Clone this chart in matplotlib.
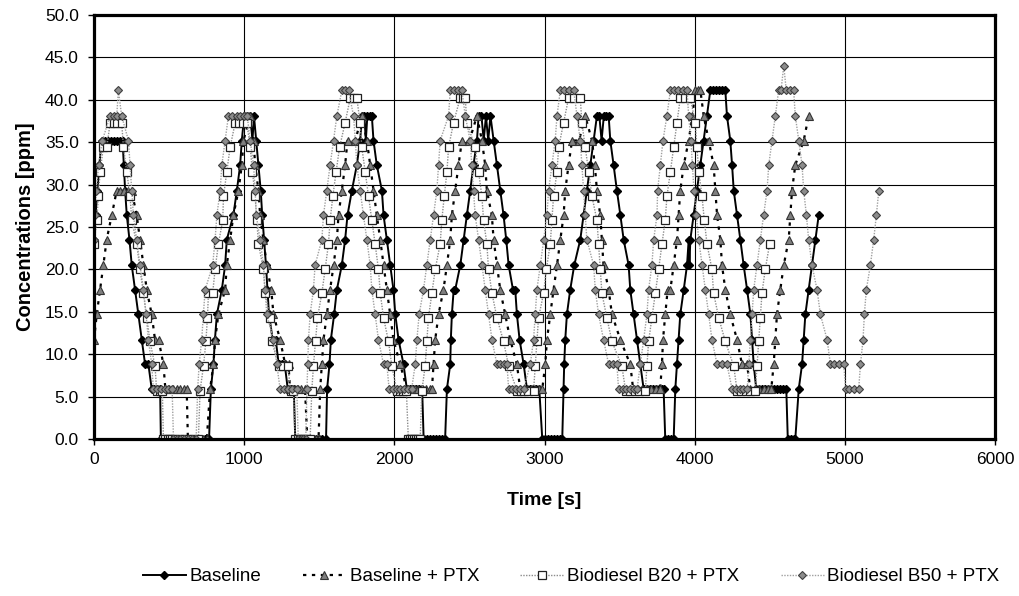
import numpy as np
import matplotlib.pyplot as plt

plt.rcParams['font.family'] = ['Liberation Sans', 'DejaVu Sans']

# (time [s], concentration [ppm])
baseline = [
    (0, 23.5), (10, 26.4), (22, 29.3), (35, 32.3), (50, 35.2), (70, 35.2), (90, 35.2), (110, 35.2),
    (130, 35.2), (150, 35.2), (170, 35.2), (190, 35.2), (198, 32.3), (207, 29.3), (218, 26.4),
    (236, 23.5), (251, 20.5), (273, 17.6), (295, 14.7), (318, 11.7), (340, 8.8), (362, 8.8),
    (384, 5.9), (400, 5.9), (420, 5.9), (440, 5.9), (445, 0), (465, 0), (490, 0), (515, 0),
    (540, 0), (565, 0), (590, 0), (615, 0), (640, 0), (665, 0), (690, 0), (715, 0), (740, 0),
    (766, 0), (778, 5.9), (795, 8.8), (805, 11.7), (818, 14.7), (851, 17.6), (873, 20.5),
    (884, 23.5), (928, 26.4), (951, 29.3), (973, 32.3), (984, 35.2), (1000, 38.1), (1020, 38.1),
    (1040, 38.1), (1055, 35.2), (1065, 38.1), (1080, 35.2), (1095, 32.3), (1110, 29.3),
    (1120, 26.4), (1132, 23.5), (1145, 20.5), (1155, 17.6), (1165, 14.7), (1190, 11.7),
    (1210, 11.7), (1230, 8.8), (1250, 8.8), (1270, 8.8), (1290, 5.9), (1310, 5.9), (1330, 5.9),
    (1340, 0), (1360, 0), (1380, 0), (1400, 0), (1420, 0), (1440, 0), (1460, 0), (1480, 0),
    (1500, 0), (1520, 0), (1545, 0), (1552, 5.9), (1568, 8.8), (1577, 11.7), (1599, 14.7),
    (1617, 17.6), (1650, 20.5), (1672, 23.5), (1688, 26.4), (1717, 29.3), (1750, 32.3),
    (1772, 35.2), (1785, 38.1), (1800, 38.1), (1810, 35.2), (1820, 38.1), (1835, 38.1),
    (1850, 38.1), (1861, 35.2), (1883, 32.3), (1917, 29.3), (1928, 26.4), (1950, 23.5),
    (1972, 20.5), (1994, 17.6), (2006, 14.7), (2028, 11.7), (2061, 8.8), (2083, 5.9), (2105, 5.9),
    (2125, 5.9), (2145, 5.9), (2165, 5.9), (2185, 5.9), (2195, 0), (2215, 0), (2235, 0), (2255, 0),
    (2275, 0), (2295, 0), (2315, 0), (2338, 0), (2350, 5.9), (2372, 8.8), (2376, 11.7),
    (2383, 14.7), (2395, 17.6), (2405, 17.6), (2439, 20.5), (2461, 23.5), (2483, 26.4),
    (2505, 29.3), (2527, 32.3), (2550, 35.2), (2561, 38.1), (2580, 38.1), (2595, 35.2),
    (2610, 38.1), (2625, 35.2), (2640, 38.1), (2661, 35.2), (2683, 32.3), (2705, 29.3),
    (2727, 26.4), (2745, 23.5), (2761, 20.5), (2790, 17.6), (2805, 17.6), (2816, 14.7),
    (2834, 11.7), (2861, 8.8), (2883, 5.9), (2905, 5.9), (2925, 5.9), (2945, 5.9), (2965, 5.9),
    (2985, 0), (3005, 0), (3025, 0), (3045, 0), (3065, 0), (3085, 0), (3105, 0), (3118, 0),
    (3127, 5.9), (3131, 8.8), (3138, 11.7), (3149, 14.7), (3171, 17.6), (3198, 20.5),
    (3238, 23.5), (3260, 26.4), (3282, 29.3), (3305, 32.3), (3327, 35.2), (3349, 38.1),
    (3365, 38.1), (3380, 35.2), (3395, 38.1), (3410, 38.1), (3427, 38.1), (3438, 35.2),
    (3460, 32.3), (3482, 29.3), (3505, 26.4), (3527, 23.5), (3560, 20.5), (3571, 17.6),
    (3593, 14.7), (3616, 11.7), (3638, 8.8), (3660, 5.9), (3680, 5.9), (3700, 5.9), (3720, 5.9),
    (3740, 5.9), (3760, 5.9), (3780, 5.9), (3793, 5.9), (3804, 0), (3820, 0), (3840, 0), (3860, 0),
    (3871, 5.9), (3882, 8.8), (3893, 11.7), (3904, 14.7), (3927, 17.6), (3949, 20.5),
    (3960, 23.5), (3965, 20.5), (3971, 23.5), (3993, 26.4), (4015, 29.3), (4038, 32.3),
    (4060, 35.2), (4082, 38.1), (4104, 41.1), (4125, 41.1), (4145, 41.1), (4165, 41.1),
    (4185, 41.1), (4204, 41.1), (4215, 38.1), (4237, 35.2), (4249, 32.3), (4260, 29.3),
    (4282, 26.4), (4304, 23.5), (4326, 20.5), (4349, 17.6), (4371, 14.7), (4382, 11.7),
    (4393, 8.8), (4410, 5.9), (4430, 5.9), (4450, 5.9), (4470, 5.9), (4490, 5.9), (4510, 5.9),
    (4530, 5.9), (4550, 5.9), (4570, 5.9), (4590, 5.9), (4610, 5.9), (4620, 0), (4640, 0),
    (4660, 0), (4670, 0), (4693, 5.9), (4715, 8.8), (4726, 11.7), (4737, 14.7), (4759, 17.6),
    (4781, 20.5), (4804, 23.5), (4826, 26.4),
]

baseline_ptx = [
    (0, 11.7), (18, 14.7), (40, 17.6), (62, 20.5), (84, 23.5), (118, 26.4), (151, 29.3),
    (175, 29.3), (200, 29.3), (225, 29.3), (250, 29.3), (284, 26.4), (306, 23.5), (329, 20.5),
    (351, 17.6), (384, 14.7), (406, 11.7), (430, 11.7), (462, 8.8), (475, 5.9), (500, 5.9),
    (525, 5.9), (550, 5.9), (575, 5.9), (600, 5.9), (617, 5.9), (625, 0), (650, 0), (675, 0),
    (700, 0), (725, 0), (751, 0), (773, 5.9), (795, 8.8), (806, 11.7), (828, 14.7), (873, 17.6),
    (884, 20.5), (906, 23.5), (928, 26.4), (962, 29.3), (984, 32.3), (995, 35.2), (1040, 38.1),
    (1062, 35.2), (1073, 32.3), (1095, 29.3), (1106, 26.4), (1128, 23.5), (1150, 20.5),
    (1180, 17.6), (1195, 14.7), (1239, 11.7), (1273, 8.8), (1295, 8.8), (1305, 5.9), (1330, 5.9),
    (1355, 5.9), (1380, 5.9), (1405, 5.9), (1420, 0), (1440, 0), (1460, 0), (1480, 0), (1495, 0),
    (1506, 5.9), (1517, 8.8), (1528, 11.7), (1550, 14.7), (1572, 17.6), (1595, 20.5),
    (1617, 23.5), (1628, 26.4), (1650, 29.3), (1672, 32.3), (1688, 35.2), (1740, 35.2),
    (1783, 38.1), (1817, 35.2), (1839, 32.3), (1861, 29.3), (1883, 26.4), (1906, 23.5),
    (1928, 20.5), (1950, 17.6), (1972, 14.7), (1994, 11.7), (2039, 8.8), (2083, 5.9), (2110, 5.9),
    (2135, 5.9), (2160, 5.9), (2185, 5.9), (2210, 5.9), (2235, 5.9), (2250, 5.9), (2261, 8.8),
    (2272, 11.7), (2294, 14.7), (2327, 17.6), (2350, 20.5), (2372, 23.5), (2383, 26.4),
    (2405, 29.3), (2427, 32.3), (2450, 35.2), (2500, 35.2), (2550, 38.1), (2583, 35.2),
    (2605, 32.3), (2616, 29.3), (2649, 26.4), (2661, 23.5), (2683, 20.5), (2705, 17.6),
    (2738, 14.7), (2772, 11.7), (2816, 8.8), (2838, 5.9), (2860, 5.9), (2885, 5.9), (2910, 5.9),
    (2935, 5.9), (2960, 5.9), (2985, 5.9), (3005, 8.8), (3016, 11.7), (3038, 14.7), (3060, 17.6),
    (3083, 20.5), (3105, 23.5), (3127, 26.4), (3138, 29.3), (3160, 32.3), (3183, 35.2),
    (3230, 35.2), (3271, 38.1), (3316, 35.2), (3335, 32.3), (3349, 29.3), (3371, 26.4),
    (3382, 23.5), (3393, 20.5), (3427, 17.6), (3449, 14.7), (3505, 11.7), (3571, 8.8),
    (3590, 5.9), (3620, 5.9), (3650, 5.9), (3680, 5.9), (3710, 5.9), (3740, 5.9), (3770, 5.9),
    (3782, 8.8), (3789, 11.7), (3804, 14.7), (3820, 17.6), (3838, 17.6), (3860, 20.5),
    (3882, 23.5), (3893, 26.4), (3904, 29.3), (3927, 32.3), (3960, 35.2), (3985, 38.1),
    (4004, 41.1), (4020, 41.1), (4038, 41.1), (4060, 38.1), (4093, 35.2), (4126, 32.3),
    (4138, 29.3), (4149, 26.4), (4171, 23.5), (4182, 20.5), (4204, 17.6), (4237, 14.7),
    (4282, 11.7), (4315, 8.8), (4349, 8.8), (4370, 5.9), (4400, 5.9), (4430, 5.9), (4460, 5.9),
    (4490, 5.9), (4510, 5.9), (4526, 8.8), (4537, 11.7), (4548, 14.7), (4570, 17.6),
    (4593, 20.5), (4626, 23.5), (4637, 26.4), (4648, 29.3), (4670, 32.3), (4726, 35.2),
    (4759, 38.1),
]

b20_ptx = [
    (0, 23.0), (18, 25.8), (29, 28.6), (40, 31.5), (62, 34.4), (85, 34.4), (107, 37.3),
    (130, 37.3), (155, 37.3), (184, 37.3), (196, 34.4), (218, 31.5), (240, 28.6), (251, 25.8),
    (284, 23.0), (306, 20.0), (329, 17.2), (351, 14.3), (373, 11.5), (406, 8.6), (417, 5.7),
    (440, 5.7), (455, 5.7), (462, 0), (475, 0), (490, 0), (505, 0), (518, 0), (540, 0), (570, 0),
    (600, 0), (630, 0), (660, 0), (695, 0), (706, 5.7), (729, 8.6), (745, 11.5), (755, 14.3),
    (762, 17.2), (790, 17.2), (806, 20.0), (828, 23.0), (857, 25.8), (862, 28.6), (884, 31.5),
    (906, 34.4), (940, 37.3), (965, 37.3), (990, 37.3), (1017, 37.3), (1040, 34.4), (1055, 31.5),
    (1073, 28.6), (1084, 25.8), (1095, 23.0), (1128, 20.0), (1139, 17.2), (1173, 14.3),
    (1184, 11.5), (1230, 8.6), (1260, 8.6), (1290, 8.6), (1310, 5.7), (1328, 5.7), (1340, 0),
    (1355, 0), (1370, 0), (1385, 0), (1400, 0), (1420, 0), (1439, 0), (1450, 5.7), (1461, 8.6),
    (1475, 11.5), (1488, 14.3), (1517, 17.2), (1539, 20.0), (1561, 23.0), (1572, 25.8),
    (1590, 28.6), (1612, 31.5), (1635, 34.4), (1672, 37.3), (1706, 40.2), (1728, 40.2),
    (1750, 40.2), (1772, 37.3), (1783, 34.4), (1806, 31.5), (1828, 28.6), (1850, 25.8),
    (1872, 23.0), (1894, 20.0), (1906, 17.2), (1928, 14.3), (1961, 11.5), (1983, 8.6),
    (2017, 5.7), (2040, 5.7), (2060, 5.7), (2080, 5.7), (2093, 0), (2105, 0), (2118, 0),
    (2130, 0), (2145, 0), (2160, 0), (2172, 0), (2183, 5.7), (2205, 8.6), (2216, 11.5),
    (2227, 14.3), (2250, 17.2), (2272, 20.0), (2305, 23.0), (2316, 25.8), (2332, 28.6),
    (2350, 31.5), (2361, 34.4), (2394, 37.3), (2438, 40.2), (2455, 40.2), (2472, 40.2),
    (2483, 37.3), (2538, 34.4), (2561, 31.5), (2583, 28.6), (2594, 25.8), (2616, 23.0),
    (2627, 20.0), (2650, 17.2), (2683, 14.3), (2727, 11.5), (2761, 8.6), (2816, 5.7), (2840, 5.7),
    (2865, 5.7), (2890, 5.7), (2927, 5.7), (2938, 8.6), (2949, 11.5), (2960, 14.3), (2994, 17.2),
    (3012, 20.0), (3038, 23.0), (3049, 25.8), (3060, 28.6), (3083, 31.5), (3094, 34.4),
    (3127, 37.3), (3160, 40.2), (3194, 40.2), (3238, 40.2), (3249, 37.3), (3271, 34.4),
    (3294, 31.5), (3316, 28.6), (3349, 25.8), (3360, 23.0), (3371, 20.0), (3382, 17.2),
    (3415, 14.3), (3449, 11.5), (3515, 8.6), (3540, 5.7), (3570, 5.7), (3600, 5.7), (3630, 5.7),
    (3671, 5.7), (3682, 8.6), (3693, 11.5), (3715, 14.3), (3738, 17.2), (3760, 20.0),
    (3782, 23.0), (3804, 25.8), (3815, 28.6), (3838, 31.5), (3860, 34.4), (3882, 37.3),
    (3904, 40.2), (3938, 40.2), (3971, 40.2), (4004, 37.3), (4015, 34.4), (4027, 31.5),
    (4049, 28.6), (4064, 25.8), (4082, 23.0), (4115, 20.0), (4126, 17.2), (4160, 14.3),
    (4204, 11.5), (4260, 8.6), (4282, 5.7), (4310, 5.7), (4340, 5.7), (4370, 5.7), (4404, 5.7),
    (4415, 8.6), (4426, 11.5), (4437, 14.3), (4448, 17.2), (4470, 20.0), (4499, 23.0),
]

b50_ptx = [
    (0, 23.5), (5, 26.4), (15, 29.3), (30, 32.3), (55, 35.2), (107, 38.1), (130, 38.1),
    (151, 38.1), (162, 41.1), (184, 38.1), (229, 35.2), (240, 32.3), (251, 29.3), (262, 26.4),
    (284, 23.5), (306, 20.5), (329, 17.6), (346, 14.7), (362, 11.7), (384, 8.8), (395, 5.9),
    (420, 5.9), (445, 5.9), (470, 5.9), (495, 5.9), (520, 5.9), (529, 0), (550, 0), (575, 0),
    (600, 0), (625, 0), (650, 0), (680, 0), (690, 5.9), (700, 8.8), (717, 11.7), (728, 14.7),
    (740, 17.6), (790, 20.5), (806, 23.5), (818, 26.4), (840, 29.3), (851, 32.3), (873, 35.2),
    (895, 38.1), (920, 38.1), (951, 38.1), (975, 38.1), (1000, 38.1), (1020, 38.1), (1040, 35.2),
    (1062, 32.3), (1073, 29.3), (1080, 26.4), (1106, 23.5), (1128, 20.5), (1139, 17.6),
    (1150, 14.7), (1195, 11.7), (1217, 8.8), (1239, 5.9), (1265, 5.9), (1290, 5.9), (1315, 5.9),
    (1350, 5.9), (1360, 0), (1375, 0), (1390, 0), (1410, 0), (1418, 5.9), (1423, 8.8),
    (1428, 11.7), (1439, 14.7), (1461, 17.6), (1472, 20.5), (1517, 23.5), (1528, 26.4),
    (1550, 29.3), (1572, 32.3), (1595, 35.2), (1617, 38.1), (1650, 41.1), (1672, 41.1),
    (1695, 41.1), (1728, 38.1), (1740, 35.2), (1750, 32.3), (1772, 29.3), (1794, 26.4),
    (1817, 23.5), (1839, 20.5), (1850, 17.6), (1872, 14.7), (1894, 11.7), (1928, 8.8),
    (1950, 8.8), (1965, 5.9), (1990, 5.9), (2015, 5.9), (2040, 5.9), (2065, 5.9), (2090, 5.9),
    (2115, 5.9), (2139, 8.8), (2150, 11.7), (2165, 14.7), (2194, 17.6), (2216, 20.5),
    (2239, 23.5), (2261, 26.4), (2283, 29.3), (2294, 32.3), (2305, 35.2), (2361, 38.1),
    (2372, 41.1), (2400, 41.1), (2425, 41.1), (2450, 41.1), (2472, 38.1), (2505, 35.2),
    (2516, 32.3), (2527, 29.3), (2538, 26.4), (2561, 23.5), (2583, 20.5), (2605, 17.6),
    (2627, 14.7), (2650, 11.7), (2683, 8.8), (2705, 8.8), (2727, 8.8), (2750, 8.8), (2761, 5.9),
    (2785, 5.9), (2810, 5.9), (2835, 5.9), (2861, 5.9), (2905, 8.8), (2927, 11.7), (2938, 14.7),
    (2949, 17.6), (2972, 20.5), (2994, 23.5), (3016, 26.4), (3027, 29.3), (3049, 32.3),
    (3071, 35.2), (3083, 38.1), (3105, 41.1), (3130, 41.1), (3160, 41.1), (3194, 41.1),
    (3216, 38.1), (3238, 35.2), (3249, 32.3), (3260, 29.3), (3271, 26.4), (3282, 23.5),
    (3327, 20.5), (3338, 17.6), (3360, 14.7), (3393, 11.7), (3427, 8.8), (3455, 8.8),
    (3482, 8.8), (3493, 5.9), (3520, 5.9), (3545, 5.9), (3570, 5.9), (3595, 5.9), (3616, 5.9),
    (3638, 8.8), (3660, 11.7), (3682, 14.7), (3693, 17.6), (3715, 20.5), (3727, 23.5),
    (3749, 26.4), (3753, 29.3), (3771, 32.3), (3789, 35.2), (3815, 38.1), (3838, 41.1),
    (3865, 41.1), (3890, 41.1), (3920, 41.1), (3949, 41.1), (3960, 38.1), (3975, 35.2),
    (3985, 32.3), (3995, 29.3), (4011, 26.4), (4027, 23.5), (4049, 20.5), (4071, 17.6),
    (4093, 14.7), (4115, 11.7), (4149, 8.8), (4180, 8.8), (4215, 8.8), (4249, 5.9), (4275, 5.9),
    (4300, 5.9), (4325, 5.9), (4350, 5.9), (4360, 8.8), (4371, 11.7), (4382, 14.7), (4393, 17.6),
    (4415, 20.5), (4437, 23.5), (4459, 26.4), (4482, 29.3), (4493, 32.3), (4515, 35.2),
    (4537, 38.1), (4559, 41.1), (4575, 41.1), (4593, 44.0), (4610, 41.1), (4635, 41.1),
    (4659, 41.1), (4670, 38.1), (4693, 35.2), (4715, 32.3), (4726, 29.3), (4744, 26.4),
    (4759, 23.5), (4781, 20.5), (4815, 17.6), (4837, 14.7), (4882, 11.7), (4904, 8.8),
    (4930, 8.8), (4960, 8.8), (4993, 8.8), (5005, 5.9), (5030, 5.9), (5060, 5.9), (5092, 5.9),
    (5104, 8.8), (5121, 11.7), (5130, 14.7), (5143, 17.6), (5170, 20.5), (5192, 23.5),
    (5210, 26.4), (5226, 29.3),
]

labels = ['Baseline', 'Baseline + PTX', 'Biodiesel B20 + PTX', 'Biodiesel B50 + PTX']

fig = plt.figure(figsize=(10.2, 5.96), dpi=100)
ax = fig.add_axes([0.0922, 0.2634, 0.8833, 0.7114])

t, v = zip(*baseline)
ax.plot(t, v, '-', color='black', lw=1.4, marker='D', ms=4.5, mfc='black', mec='black',
        label=labels[0])
t, v = zip(*baseline_ptx)
ax.plot(t, v, linestyle=(0, (1.5, 2.5)), color='black', lw=1.6, marker='^', ms=6,
        mfc='#7f7f7f', mec='#333333', mew=0.8, label=labels[1])
t, v = zip(*b20_ptx)
ax.plot(t, v, linestyle=(0, (1, 1)), color='#8c8c8c', lw=1.0, marker='s', ms=5.5,
        mfc='white', mec='#222222', mew=0.9, label=labels[2])
t, v = zip(*b50_ptx)
ax.plot(t, v, linestyle=(0, (1, 1)), color='#a0a0a0', lw=1.0, marker='D', ms=4.5,
        mfc='#8c8c8c', mec='#404040', mew=0.8, label=labels[3])

ax.set_xlim(0, 6000)
ax.set_ylim(0, 50)
ax.set_xticks(np.arange(0, 6001, 1000))
ax.set_yticks(np.arange(0, 50.1, 5))
ax.set_yticklabels([f'{y:.1f}' for y in np.arange(0, 50.1, 5)])
ax.grid(True, color='black', lw=0.8)
ax.set_axisbelow(True)
for s in ax.spines.values():
    s.set_linewidth(2.3)
ax.tick_params(direction='out', length=4, width=1, labelsize=12.5)
ax.tick_params(axis='y', pad=7)
ax.tick_params(axis='x', pad=5)

ax.set_xlabel('Time [s]', fontsize=14, fontweight='bold', labelpad=18)
ax.set_ylabel('Concentrations [ppm]', fontsize=14.5, fontweight='bold', labelpad=7)

fig.legend(loc='center', bbox_to_anchor=(0.56, 0.032), ncol=4, frameon=False,
           fontsize=13.5, handlelength=2.3, columnspacing=2.2, handletextpad=0.2)

fig.savefig('out.png', dpi=100)
